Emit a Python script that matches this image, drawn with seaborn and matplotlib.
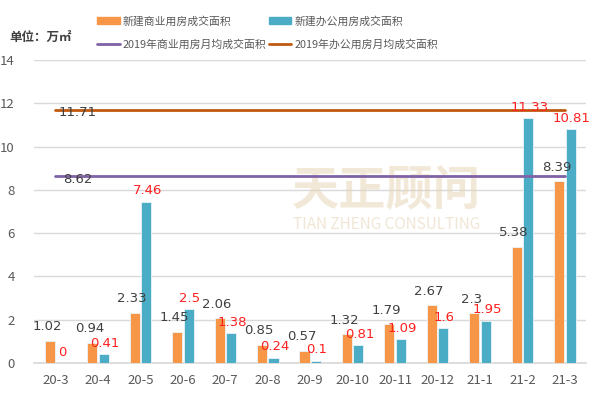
import matplotlib
matplotlib.use("Agg")
import matplotlib.pyplot as plt
import seaborn as sns
import pandas as pd
from matplotlib.patches import Patch
from matplotlib.lines import Line2D

months = ["20-3", "20-4", "20-5", "20-6", "20-7", "20-8", "20-9", "20-10",
          "20-11", "20-12", "21-1", "21-2", "21-3"]
commercial = [1.02, 0.94, 2.33, 1.45, 2.06, 0.85, 0.57, 1.32, 1.79, 2.67, 2.3, 5.38, 8.39]
office = [0, 0.41, 7.46, 2.5, 1.38, 0.24, 0.1, 0.81, 1.09, 1.6, 1.95, 11.33, 10.81]
avg_commercial_2019 = 8.62
avg_office_2019 = 11.71
series_names = ["新建商业用房成交面积", "新建办公用房成交面积"]
line_names = ["2019年商业用房月均成交面积", "2019年办公用房月均成交面积"]

sns.set_theme(style="white")
plt.rcParams['font.family'] = ['Noto Sans CJK SC', 'DejaVu Sans']

c_orange = "#F79646"
c_blue = "#4BACC6"
c_purple = "#7F62A6"
c_brown = "#C0590F"
gray = "#595959"

df = pd.DataFrame({
    "month": months * 2,
    "value": commercial + office,
    "series": [series_names[0]] * len(months) + [series_names[1]] * len(months),
})

fig = plt.figure(figsize=(6, 3.98), dpi=100)
ax = fig.add_axes([0.057, 0.088, 0.920, 0.761])

sns.barplot(data=df, x="month", y="value", hue="series", order=months,
            hue_order=series_names, palette=[c_orange, c_blue], saturation=1,
            width=0.54, gap=0.12, ax=ax, legend=False,
            edgecolor="#eaf4f8", linewidth=0.6, zorder=3)

n = len(months)
ax.plot([0, n - 1], [avg_commercial_2019] * 2, color=c_purple, lw=2, zorder=4)
ax.plot([0, n - 1], [avg_office_2019] * 2, color=c_brown, lw=2, zorder=4)
ax.text(0.53, avg_commercial_2019 - 0.12, f"{avg_commercial_2019:.2f}", color="#404040",
        fontsize=9.5, ha="center", va="center", zorder=5, family=['DejaVu Sans'])
ax.text(0.53, avg_office_2019 - 0.12, f"{avg_office_2019:.2f}", color="#404040",
        fontsize=9.5, ha="center", va="center", zorder=5, family=['DejaVu Sans'])

for i, (c, o) in enumerate(zip(commercial, office)):
    ax.text(i - 0.2, c + 0.35, f"{c:g}", color="#404040", fontsize=9.5,
            ha="center", va="bottom", zorder=5, family=['DejaVu Sans'])
    ax.text(i + 0.16, o + 0.2, f"{o:g}", color="#FF2020", fontsize=9.5,
            ha="center", va="bottom", zorder=5, family=['DejaVu Sans'])

# watermark
ax.text(7.8, 8.0, "天正顾问", fontsize=34, color="#E6D3B3", alpha=0.5,
        ha="center", va="center", zorder=2, fontweight="bold")
ax.text(7.8, 6.4, "TIAN ZHENG CONSULTING", fontsize=11, color="#E6D3B3",
        alpha=0.55, ha="center", va="center", zorder=2)

ax.set_xlim(-0.5, n - 0.5)
ax.set_ylim(0, 14)
ax.set_yticks(range(0, 15, 2))
ax.yaxis.grid(True, color="#d9d9d9", lw=1)
ax.set_axisbelow(True)
for s in ["top", "right", "left"]:
    ax.spines[s].set_visible(False)
ax.spines["bottom"].set_color("#d9d9d9")
ax.set_xlabel("")
ax.set_ylabel("")
ax.tick_params(axis="both", length=0, colors=gray, labelsize=9.5, pad=8)
ax.tick_params(axis="y", pad=14)

handles = [Patch(color=c_orange), Line2D([], [], color=c_purple, lw=2),
           Patch(color=c_blue), Line2D([], [], color=c_brown, lw=2)]
labels = [series_names[0], line_names[0], series_names[1], line_names[1]]
fig.legend(handles, labels, ncol=2, loc="upper left", bbox_to_anchor=(0.145, 0.985),
           frameon=False, fontsize=7.8, labelcolor=gray, handlelength=2.1,
           handleheight=0.7, columnspacing=0.2, handletextpad=0.3, labelspacing=1.15)

fig.text(0.015, 0.905, "单位：万㎡", fontsize=9, color="#404040", ha="left",
         va="center", fontweight="bold")

fig.savefig("out.png", dpi=100)
